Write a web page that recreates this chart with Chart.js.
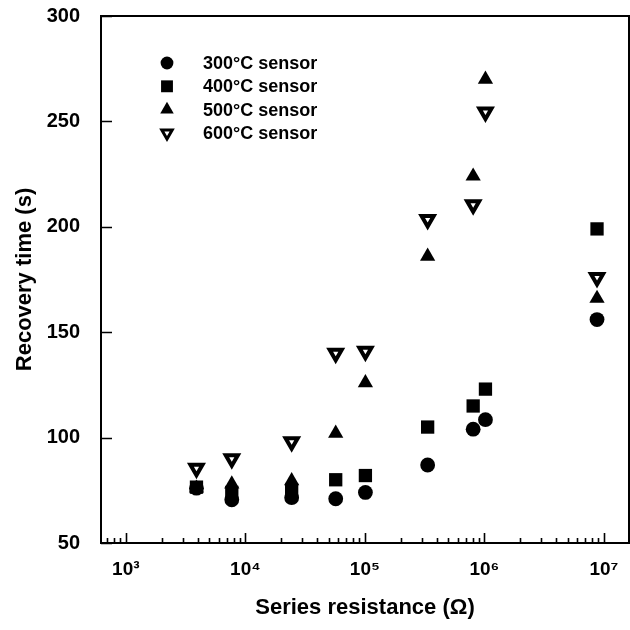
<!DOCTYPE html>
<html>
<head>
<meta charset="utf-8">
<script src="https://cdn.jsdelivr.net/npm/chart.js@4/dist/chart.umd.min.js"></script>
<style>
  html, body { margin: 0; padding: 0; background: #fff; }
</style>
</head>
<body>
<canvas id="recoveryChart" width="630" height="630"></canvas>
<script>
// series resistance (ohm) used for each measurement
const resistance = [3.9e3, 7.7e3, 2.44e4, 5.7e4, 1.01e5, 3.35e5, 8.05e5, 1.02e6, 8.75e6];

// recovery time (s) per sensor
const sensor300 = [76, 70.5, 71.5, 71, 74, 87, 104, 108.5, 156];
const sensor400 = [76.5, 74, 75, 80, 82, 105, 115, 123, 199];
const sensor500 = [76, 78, 79.5, 102, 126, 186, 224, 270, 166];
const sensor600 = [85.5, 90, 98, 140, 141, 203.5, 210.5, 254.5, 176];

const seriesLabels = ['300°C sensor', '400°C sensor', '500°C sensor', '600°C sensor'];
const yTicks = [50, 100, 150, 200, 250, 300];

const sup = ['⁰', '¹', '²', '³', '⁴', '⁵', '⁶', '⁷', '⁸', '⁹'];
const FONT = "'Liberation Sans', Arial, sans-serif";

function toPoints(values) {
  return values.map((v, i) => ({ x: resistance[i], y: v }));
}

// frame round the plot plus inward tick marks
const frameTicks = {
  id: 'frameTicks',
  afterDatasetsDraw(chart) {
    const { ctx, chartArea: a, scales: { x, y } } = chart;
    ctx.save();
    ctx.strokeStyle = '#000';
    ctx.lineWidth = 2;
    ctx.strokeRect(a.left, a.top, a.right - a.left, a.bottom - a.top);

    ctx.lineWidth = 1.6;
    ctx.beginPath();
    yTicks.forEach(v => {
      const py = Math.round(y.getPixelForValue(v)) + 0.5;
      ctx.moveTo(a.left, py);
      ctx.lineTo(a.left + 11, py);
    });
    // log decades: long tick at each power of ten, short ones between
    const e0 = Math.floor(Math.log10(x.min));
    const e1 = Math.ceil(Math.log10(x.max));
    for (let e = e0; e <= e1; e++) {
      for (let k = 1; k <= 9; k++) {
        const v = k * Math.pow(10, e);
        if (v < x.min || v > x.max) continue;
        const px = Math.round(x.getPixelForValue(v)) + 0.5;
        ctx.moveTo(px, a.bottom);
        ctx.lineTo(px, a.bottom - (k === 1 ? 10 : 5));
      }
    }
    ctx.stroke();
    ctx.restore();
  }
};

// legend drawn inside the plot, upper left
const innerLegend = {
  id: 'innerLegend',
  afterDraw(chart) {
    const { ctx, chartArea: a } = chart;
    ctx.save();
    ctx.font = 'bold 18px ' + FONT;
    ctx.textBaseline = 'middle';
    chart.data.datasets.forEach((ds, i) => {
      const mx = a.left + 66;
      const my = a.top + 47 + i * 23.3;
      ctx.fillStyle = ds.backgroundColor;
      ctx.strokeStyle = ds.borderColor;
      ctx.lineWidth = ds.borderWidth ? 3 : 0;
      Chart.helpers.drawPoint(ctx, {
        pointStyle: ds.pointStyle,
        rotation: ds.pointRotation || 0,
        radius: ds.pointRadius - 1,
        borderWidth: ds.borderWidth ? 3 : 0
      }, mx, my);
      ctx.fillStyle = '#000';
      ctx.fillText(ds.label, a.left + 102, my + 1);
    });
    ctx.restore();
  }
};

new Chart(document.getElementById('recoveryChart'), {
  type: 'scatter',
  data: {
    datasets: [
      { label: seriesLabels[0], data: toPoints(sensor300), pointStyle: 'circle', pointRadius: 7.4,
        backgroundColor: '#000', borderColor: '#000', borderWidth: 0 },
      { label: seriesLabels[1], data: toPoints(sensor400), pointStyle: 'rect', pointRadius: 9.4,
        backgroundColor: '#000', borderColor: '#000', borderWidth: 0 },
      { label: seriesLabels[2], data: toPoints(sensor500), pointStyle: 'triangle', pointRadius: 8.8,
        backgroundColor: '#000', borderColor: '#000', borderWidth: 0 },
      { label: seriesLabels[3], data: toPoints(sensor600), pointStyle: 'triangle', pointRadius: 7,
        pointRotation: 180,
        backgroundColor: '#fff', borderColor: '#000', borderWidth: 4 }
    ]
  },
  options: {
    responsive: false,
    animation: false,
    layout: { autoPadding: false, padding: { top: 16, right: 1, left: 0, bottom: 0 } },
    plugins: { legend: { display: false }, tooltip: { enabled: false } },
    scales: {
      x: {
        type: 'logarithmic',
        min: 620,
        max: 1.62e7,
        grid: { display: false },
        border: { display: false },
        afterFit: s => { s.height = 87; s.paddingLeft = 0; s.paddingRight = 0; },
        ticks: {
          autoSkip: false,
          maxRotation: 0,
          padding: 7,
          color: '#000',
          font: { family: FONT, size: 19, weight: 'bold' },
          callback: value => {
            const e = Math.log10(value);
            return Math.abs(e - Math.round(e)) < 1e-6 ? '10' + sup[Math.round(e)] : '';
          }
        },
        title: {
          display: true,
          text: 'Series resistance (Ω)',
          color: '#000',
          font: { family: FONT, size: 22, weight: 'bold' },
          padding: { top: 0, bottom: 9 }
        }
      },
      y: {
        min: 50,
        max: 300,
        grid: { display: false },
        border: { display: false },
        afterFit: s => { s.width = 101; s.paddingTop = 0; s.paddingBottom = 0; },
        ticks: {
          stepSize: 50,
          padding: 13,
          color: '#000',
          font: { family: FONT, size: 20, weight: 'bold' }
        },
        title: {
          display: true,
          text: 'Recovery time (s)',
          color: '#000',
          font: { family: FONT, size: 22, weight: 'bold' },
          padding: { top: 12, bottom: 0 }
        }
      }
    }
  },
  plugins: [frameTicks, innerLegend]
});
</script>
</body>
</html>
